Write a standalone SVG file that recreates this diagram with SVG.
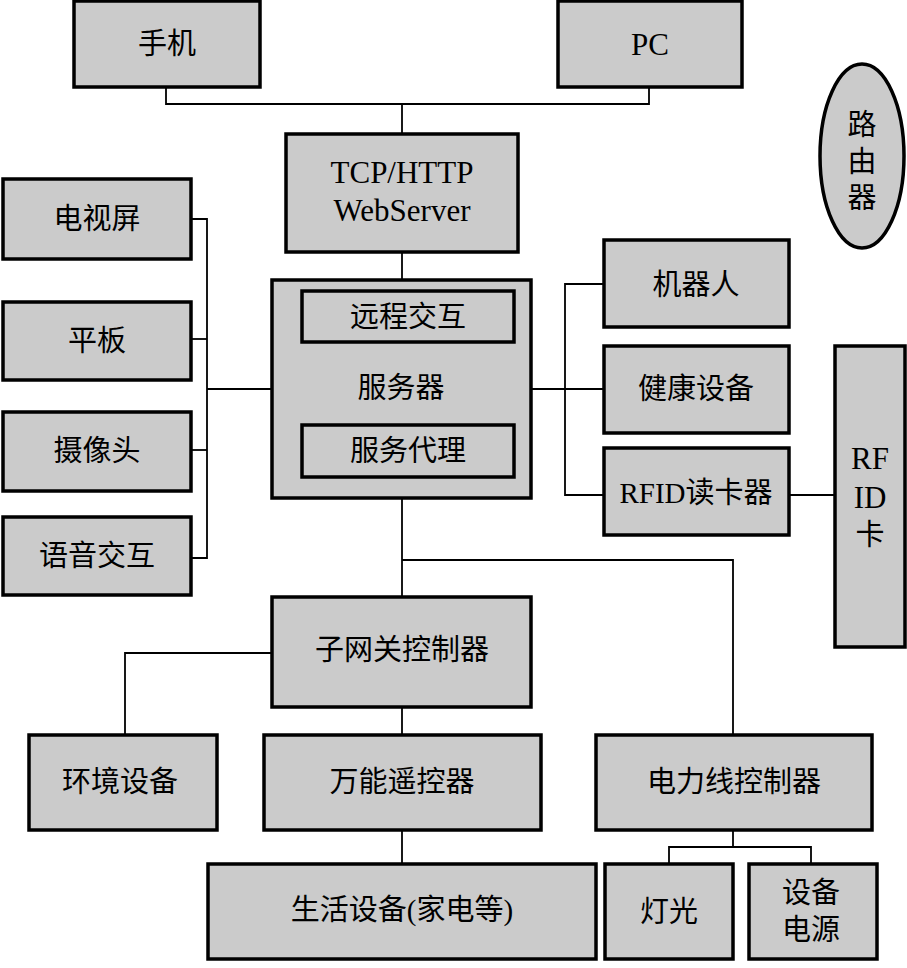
<svg xmlns="http://www.w3.org/2000/svg" width="907" height="968" viewBox="0 0 907 968">
<style>
.box{fill:#cbcbcb;stroke:#000;stroke-width:3.5}
.in{fill:#cbcbcb;stroke:#000;stroke-width:3.5}
.t{font-family:"Liberation Serif","Noto Sans CJK SC",serif;font-size:29px;fill:#000;text-anchor:middle;dominant-baseline:central}
.l{font-size:31px}
.c{fill:none;stroke:#000;stroke-width:1.8}
</style>
<rect width="907" height="968" fill="#fff"/>
<g id="connectors">
<polyline class="c" points="166,87 166,104 649,104 649,87"/>
<line class="c" x1="402" y1="104" x2="402" y2="134"/>
<line class="c" x1="402" y1="252" x2="402" y2="280"/>
<polyline class="c" points="191,219 207,219 207,558 191,558"/>
<line class="c" x1="191" y1="339" x2="207" y2="339"/>
<line class="c" x1="191" y1="450" x2="207" y2="450"/>
<line class="c" x1="207" y1="389" x2="272" y2="389"/>
<polyline class="c" points="604,284 565,284 565,495 604,495"/>
<line class="c" x1="531" y1="389" x2="604" y2="389"/>
<line class="c" x1="789" y1="495" x2="835" y2="495"/>
<line class="c" x1="402" y1="498" x2="402" y2="597"/>
<polyline class="c" points="402,560 733,560 733,735"/>
<polyline class="c" points="272,653 125,653 125,735"/>
<line class="c" x1="402" y1="707" x2="402" y2="735"/>
<line class="c" x1="402" y1="830" x2="402" y2="864"/>
<line class="c" x1="733" y1="830" x2="733" y2="847"/>
<polyline class="c" points="669,864 669,847 811,847 811,864"/>
</g>
<g id="phone"><rect class="box" x="74" y="1" width="186" height="86"/><text class="t" x="167" y="44">手机</text></g>
<g id="pc"><rect class="box" x="558" y="1" width="184" height="86"/><text class="t l" x="650" y="44">PC</text></g>
<g id="router"><ellipse cx="862" cy="156" rx="42" ry="92" fill="#cbcbcb" stroke="#000" stroke-width="3.5"/><text class="t" x="862" y="125">路</text><text class="t" x="862" y="162">由</text><text class="t" x="862" y="198">器</text></g>
<g id="webserver"><rect class="box" x="286" y="134" width="232" height="118"/><text class="t l" x="402" y="172">TCP/HTTP</text><text class="t l" x="402" y="210">WebServer</text></g>
<g id="tv"><rect class="box" x="3" y="179" width="188" height="80"/><text class="t" x="97" y="219">电视屏</text></g>
<g id="tablet"><rect class="box" x="3" y="302" width="188" height="78"/><text class="t" x="97" y="341">平板</text></g>
<g id="camera"><rect class="box" x="3" y="412" width="188" height="79"/><text class="t" x="97" y="451">摄像头</text></g>
<g id="voice"><rect class="box" x="3" y="517" width="188" height="78"/><text class="t" x="97" y="556">语音交互</text></g>
<g id="server"><rect class="box" x="272" y="280" width="259" height="218"/>
<rect class="in" x="302" y="291" width="212" height="51"/><text class="t" x="408" y="317">远程交互</text>
<text class="t" x="401" y="388">服务器</text>
<rect class="in" x="302" y="425" width="212" height="52"/><text class="t" x="408" y="451">服务代理</text></g>
<g id="robot"><rect class="box" x="604" y="240" width="185" height="87"/><text class="t" x="696" y="285">机器人</text></g>
<g id="health"><rect class="box" x="604" y="346" width="185" height="87"/><text class="t" x="696" y="389">健康设备</text></g>
<g id="rfidreader"><rect class="box" x="604" y="448" width="185" height="87"/><text class="t" x="696" y="493">RFID读卡器</text></g>
<g id="rfidcard"><rect class="box" x="835" y="346" width="70" height="301"/><text class="t l" x="870" y="458">RF</text><text class="t l" x="870" y="497">ID</text><text class="t" x="870" y="535">卡</text></g>
<g id="gateway"><rect class="box" x="272" y="597" width="259" height="110"/><text class="t" x="402" y="650">子网关控制器</text></g>
<g id="env"><rect class="box" x="29" y="735" width="188" height="95"/><text class="t" x="120" y="782">环境设备</text></g>
<g id="remote"><rect class="box" x="264" y="735" width="277" height="95"/><text class="t" x="402" y="782">万能遥控器</text></g>
<g id="plc"><rect class="box" x="596" y="735" width="276" height="95"/><text class="t" x="734" y="782">电力线控制器</text></g>
<g id="appliance"><rect class="box" x="208" y="864" width="388" height="95"/><text class="t" x="402" y="910">生活设备(家电等)</text></g>
<g id="light"><rect class="box" x="605" y="864" width="128" height="95"/><text class="t" x="669" y="912">灯光</text></g>
<g id="power"><rect class="box" x="749" y="864" width="128" height="95"/><text class="t" x="811" y="893">设备</text><text class="t" x="811" y="930">电源</text></g>
</svg>
